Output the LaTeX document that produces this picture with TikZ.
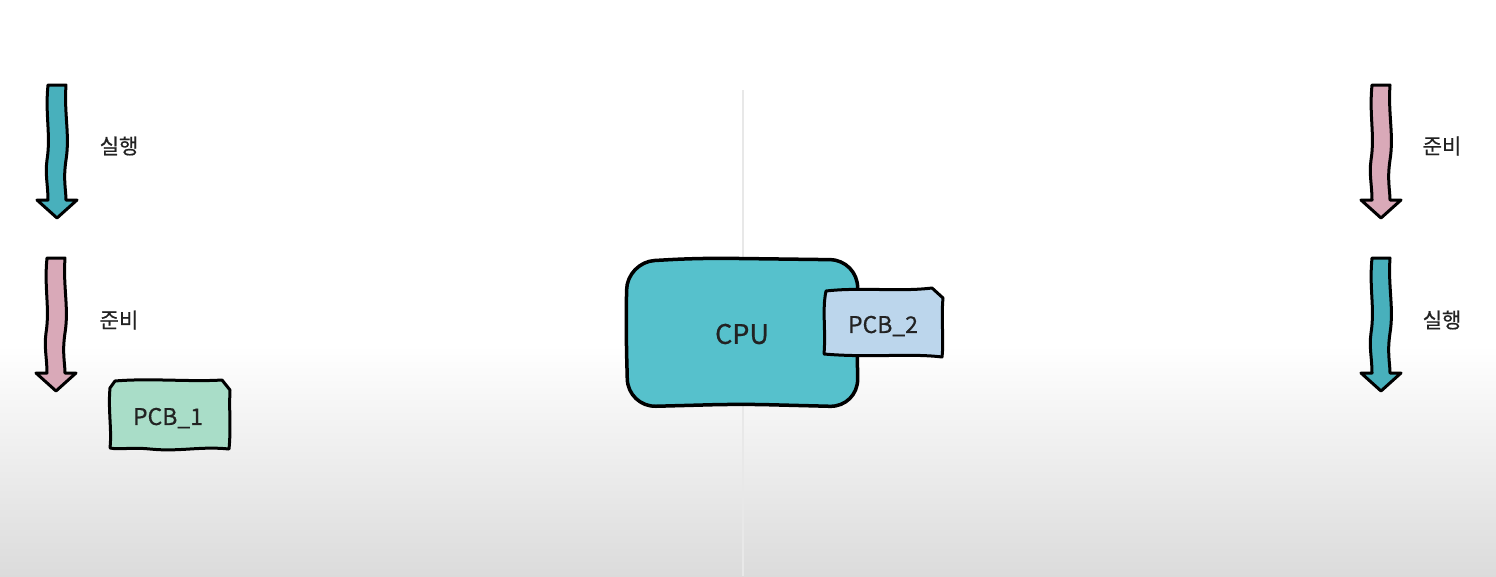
\documentclass[tikz,border=0pt]{standalone}
\usepackage{fontspec}
\setmainfont[FakeBold=0.6]{Noto Sans CJK KR}
\definecolor{arrteal}{HTML}{48B0BC}
\definecolor{cputeal}{HTML}{56C1CC}
\definecolor{arrpink}{HTML}{D9A9B8}
\definecolor{pcbgreen}{HTML}{A9DDC8}
\definecolor{pcbblue}{HTML}{BCD6EC}
\definecolor{txt}{HTML}{222222}
\begin{document}
\begin{tikzpicture}[x=1pt,y=-1pt,
  outline/.style={draw=black,line width=3pt,line join=round},
  lbl/.style={font=\fontsize{21}{24}\selectfont,text=txt},
  pcbtext/.style={font=\fontsize{23}{26}\selectfont,text=txt},
  cputext/.style={font=\fontsize{27}{30}\selectfont,text=txt},
  pics/wavyarrow/.style={code={
    \path[pic actions,outline]
      (-9,0) -- (9,0)
      .. controls (7,30) and (13,50) .. (9,75)
      .. controls (6,95) and (9,105) .. (9,115)
      -- (20,115) -- (0,133) -- (-20,115) -- (-9,115)
      .. controls (-9,100) and (-12,90) .. (-10,75)
      .. controls (-6,50) and (-12,30) .. (-9,0) -- cycle;
  }}]
\useasboundingbox (0,0) rectangle (1496,576);
\fill[white] (0,0) rectangle (1496,576);
\shade[top color=white,bottom color=black!14] (0,345) rectangle (1496,576);
\draw[black!9,line width=1.5pt] (743,90) -- (743,576);

% left side
\pic[fill=arrteal] at (57,85) {wavyarrow};
\pic[fill=arrpink] at (56,258) {wavyarrow};
\node[lbl] (l1) at (119,146) {실행};
\node[lbl] (l2) at (119,320) {준비};

% right side
\pic[fill=arrpink] at (1381,85) {wavyarrow};
\pic[fill=arrteal] at (1381,258) {wavyarrow};
\node[lbl] (r1) at (1442,146) {준비};
\node[lbl] (r2) at (1442,320) {실행};

% PCB_1
\draw[outline,fill=pcbgreen]
  (115,381) .. controls (150,378) and (190,382) .. (222,380)
  -- (230,390) .. controls (229,410) and (231,430) .. (229,449)
  .. controls (200,446) and (180,452) .. (150,449)
  .. controls (130,447) and (120,450) .. (110,448)
  .. controls (112,430) and (108,410) .. (110,388) -- cycle;
\node[pcbtext] (pcb1) at (168,418) {PCB\_1};

% CPU
\draw[outline,line width=3.5pt,fill=cputeal,rounded corners=28]
  (627,262) -- (700,258) -- (858,260) -- (857,330) -- (858,407)
  -- (740,404) -- (628,407) -- (626,330) -- cycle;
\node[cputext] (cpu) at (742,334) {CPU};

% PCB_2
\draw[outline,fill=pcbblue]
  (826,291) .. controls (860,287) and (900,292) .. (932,288)
  -- (943,298) .. controls (941,320) and (944,340) .. (942,357)
  .. controls (910,353) and (870,358) .. (824,354)
  .. controls (826,330) and (822,310) .. (826,291) -- cycle;
\node[pcbtext] (pcb2) at (883,326) {PCB\_2};
\end{tikzpicture}
\end{document}
